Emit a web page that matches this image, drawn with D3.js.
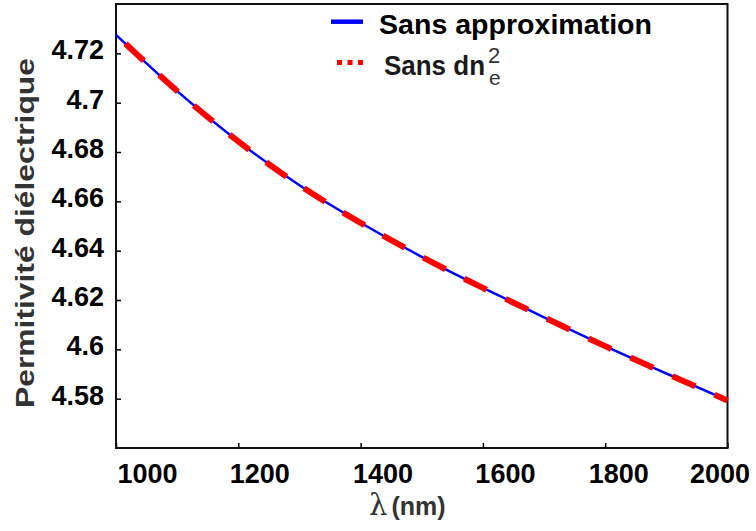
<!DOCTYPE html>
<html>
<head>
<meta charset="utf-8">
<script src="https://cdn.jsdelivr.net/npm/d3@7"></script>
<style>
  html, body { margin: 0; padding: 0; background: #fff; }
  svg { display: block; }
  text { font-family: "Liberation Sans", Arial, Helvetica, sans-serif; }
</style>
</head>
<body>
<svg id="chart" width="756" height="531"></svg>
<script>
// ---- data ----
const wavelengths = [1000, 1100, 1200, 1300, 1400, 1500, 1600, 1700, 1800, 1900, 2000];
const sansApproximation = [4.7275, 4.7047, 4.6843, 4.6665, 4.6513, 4.6375, 4.6249, 4.6130, 4.6013, 4.5902, 4.5793];
const sansDn2e = [4.7275, 4.7047, 4.6843, 4.6665, 4.6513, 4.6375, 4.6249, 4.6130, 4.6013, 4.5902, 4.5793];
const xTickValues = [1000, 1200, 1400, 1600, 1800, 2000];
const yTickValues = [4.58, 4.60, 4.62, 4.64, 4.66, 4.68, 4.70, 4.72];
const yTickLabels = ["4.58", "4.6", "4.62", "4.64", "4.66", "4.68", "4.7", "4.72"];
const seriesNames = ["Sans approximation", "Sans dn"];

// ---- layout ----
const svg = d3.select("#chart");
const plotL = 116, plotR = 727.5, plotT = 4, plotB = 448;
const x = d3.scaleLinear().domain([1000, 2000]).range([plotL, plotR]);
const y = d3.scaleLinear().domain([4.56, 4.74]).range([plotB, plotT]);

// x label shifts (the reference's tick labels sit right of their ticks)
const xLabelShift = [31, 21, 22, 22, 13, -8];

// axes
const gx = svg.append("g").attr("transform", `translate(0,${plotB})`)
  .call(d3.axisBottom(x).tickValues(xTickValues).tickSizeInner(-5).tickSizeOuter(0).tickPadding(0).tickFormat(d3.format("d")));
gx.select(".domain").remove();
gx.selectAll(".tick line").attr("stroke", "#000").attr("stroke-width", 1.5);
gx.selectAll(".tick text")
  .attr("font-size", 27).attr("font-weight", "bold").attr("fill", "#000")
  .attr("y", 0).attr("dy", 35)
  .attr("x", (d, i) => xLabelShift[i]);

const gy = svg.append("g").attr("transform", `translate(${plotL},0)`)
  .call(d3.axisLeft(y).tickValues(yTickValues).tickSizeInner(-5).tickSizeOuter(0).tickPadding(0)
    .tickFormat((d, i) => yTickLabels[i]));
gy.select(".domain").remove();
gy.selectAll(".tick line").attr("stroke", "#000").attr("stroke-width", 1.5);
gy.selectAll(".tick text")
  .attr("font-size", 27).attr("font-weight", "bold").attr("fill", "#000")
  .attr("x", -12).attr("dy", 5.5).attr("text-anchor", "end");

// frame
svg.append("rect")
  .attr("x", plotL).attr("y", plotT)
  .attr("width", plotR - plotL).attr("height", plotB - plotT)
  .attr("fill", "none").attr("stroke", "#111").attr("stroke-width", 2);

// lines
const line = d3.line().x((d, i) => x(wavelengths[i])).y(d => y(d)).curve(d3.curveNatural);

svg.append("path").datum(sansApproximation)
  .attr("d", line).attr("fill", "none")
  .attr("stroke", "#0000ff").attr("stroke-width", 2.5);

svg.append("path").datum(sansDn2e)
  .attr("d", line).attr("fill", "none")
  .attr("stroke", "#ff0000").attr("stroke-width", 6)
  .attr("stroke-dasharray", "25,21").attr("stroke-dashoffset", 33);

// legend
svg.append("line").attr("x1", 331).attr("x2", 363).attr("y1", 21.7).attr("y2", 21.7)
  .attr("stroke", "#0000ff").attr("stroke-width", 4.5);
svg.append("text").attr("x", 379).attr("y", 33.5)
  .attr("font-size", 27).attr("font-weight", "bold").attr("fill", "#000")
  .attr("textLength", 273).attr("lengthAdjust", "spacingAndGlyphs")
  .text(seriesNames[0]);

svg.append("line").attr("x1", 337).attr("x2", 364).attr("y1", 62.5).attr("y2", 62.5)
  .attr("stroke", "#ff0000").attr("stroke-width", 5).attr("stroke-dasharray", "5,5.5");
svg.append("text").attr("x", 384).attr("y", 75)
  .attr("font-size", 27).attr("font-weight", "bold").attr("fill", "#1a1a1a")
  .attr("textLength", 101).attr("lengthAdjust", "spacingAndGlyphs")
  .text(seriesNames[1]);
svg.append("text").attr("x", 488).attr("y", 63)
  .attr("font-size", 22).attr("fill", "#333").text("2");
svg.append("text").attr("x", 489).attr("y", 85)
  .attr("font-size", 21).attr("fill", "#333").text("e");

// axis titles
svg.append("text")
  .attr("transform", "translate(33.5,233) rotate(-90)")
  .attr("text-anchor", "middle")
  .attr("font-size", 26).attr("font-weight", "bold").attr("fill", "#333")
  .attr("textLength", 350).attr("lengthAdjust", "spacingAndGlyphs")
  .text("Permitivité diélectrique");

const xt = svg.append("text").attr("x", 369).attr("y", 515).attr("fill", "#333");
xt.append("tspan").attr("font-size", 29).attr("font-family", "'DejaVu Serif', 'Liberation Serif', serif").text("λ");
xt.append("tspan").attr("font-size", 25).attr("font-weight", "bold").attr("dx", 4).text("(nm)");
</script>
</body>
</html>
